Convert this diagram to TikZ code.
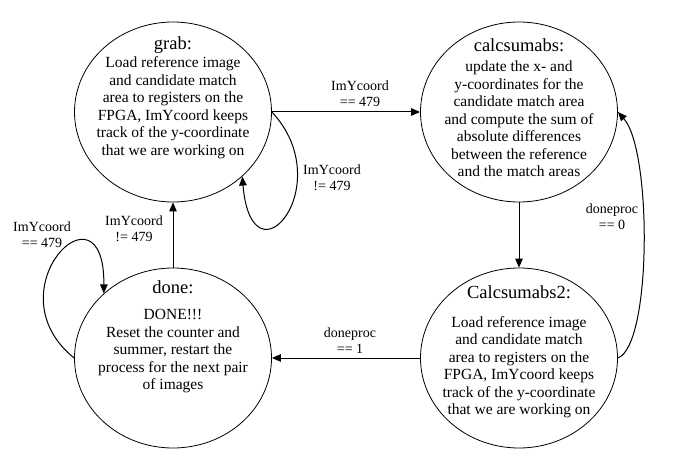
\documentclass[tikz,border=0pt]{standalone}
\usepackage{fontspec}
\setmainfont{Liberation Serif}
\usetikzlibrary{arrows.meta,shapes.geometric}

\begin{document}
\begin{tikzpicture}[x=1pt,y=-1pt,
  stnode/.style={draw,ellipse,line width=0.8pt,minimum width=197pt,minimum height=180pt,inner sep=0pt},
  stname/.style={inner sep=0pt,font=\fontsize{18.5}{21}\selectfont},
  sttext/.style={inner sep=0pt,align=center,font=\fontsize{15.5}{17.5}\selectfont},
  cond/.style={inner sep=0pt,align=center,font=\fontsize{14}{16}\selectfont},
  trans/.style={line width=1pt,-{Triangle[length=9pt,width=7.5pt]}}]
\useasboundingbox (0,0) rectangle (699,473);
\node [stnode] (grab) at (173,112) {};
\node [stname] (grabname) at (173,45) {grab:};
\node [sttext] (grabtext) at (173,107.5) {Load reference image\\and candidate match\\area to registers on the\\FPGA, ImYcoord keeps\\track of the y-coordinate\\that we are working on};
\node [stnode] (calcsumabs) at (519,112) {};
\node [stname] (calcsumabsname) at (519,45) {calcsumabs:};
\node [sttext] (calcsumabstext) at (519,119) {update the x- and\\y-coordinates for the\\candidate match area\\and compute the sum of\\absolute differences\\between the reference\\and the match areas};
\node [stnode] (done) at (173,358) {};
\node [stname] (donename) at (173,287) {done:};
\node [sttext] (donetext) at (173,351.5) {DONE!!!\\Reset the counter and\\summer, restart the\\process for the next pair\\of images};
\node [stnode] (calcsumabs2) at (519,358) {};
\node [stname] (calcsumabs2name) at (519,292) {Calcsumabs2:};
\node [sttext] (calcsumabs2text) at (519,367) {Load reference image\\and candidate match\\area to registers on the\\FPGA, ImYcoord keeps\\track of the y-coordinate\\that we are working on};
\draw [trans] (grab.east) -- (calcsumabs.west);
\node [cond] (lgrabcalc) at (360,94) {ImYcoord\\== 479};
\draw [trans] (grab.east) .. controls (340,185) and (252,290) .. (grab.-43);
\node [cond] (lgrabloop) at (332,178) {ImYcoord\\!= 479};
\draw [trans] (done.north) -- (grab.south);
\node [cond] (ldonegrab) at (134,229) {ImYcoord\\!= 479};
\draw [trans] (done.west) .. controls (-10,290) and (105,175) .. (done.137);
\node [cond] (ldoneloop) at (42,235) {ImYcoord\\== 479};
\draw [trans] (calcsumabs.south) -- (calcsumabs2.north);
\draw [trans] (calcsumabs2.west) -- (done.east);
\node [cond] (lcalcdone) at (350,341) {doneproc\\== 1};
\draw [trans] (calcsumabs2.east) .. controls (652,345) and (652,150) .. (calcsumabs.east);
\node [cond] (lcalcback) at (612,217) {doneproc\\== 0};
\end{tikzpicture}
\end{document}
